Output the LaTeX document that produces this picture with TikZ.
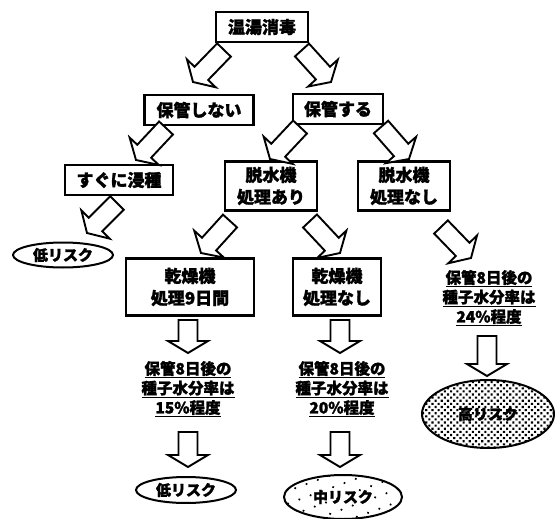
\documentclass[tikz,border=0pt]{standalone}
\usepackage{fontspec}
\newfontfamily\jp{Noto Sans CJK JP}[BoldFeatures={FakeBold=1.6}]
\usetikzlibrary{calc,shapes.geometric,patterns.meta}
\tikzset{
  box/.style={draw, line width=2.2pt, font=\jp\bfseries\fontsize{17}{22}\selectfont, align=center, inner sep=0pt},
  note/.style={font=\jp\bfseries\fontsize{15.5}{19.5}\selectfont, align=center, inner sep=0pt},
  risk/.style={ellipse, draw, line width=2pt, inner sep=0pt, font=\jp\bfseries\fontsize{15}{17}\selectfont},
  blockarrow/.style={draw, line width=1.9pt, fill=white, line join=miter},
}
\newcommand{\barrow}[2]{%
  \coordinate (hb) at ($(#2)!12pt!(#1)$);
  \draw[blockarrow] ($(#1)!9.5pt!90:(#2)$) -- ($(hb)!9.5pt!90:(#2)$) -- ($(hb)!20pt!90:(#2)$) -- (#2)
     -- ($(hb)!20pt!-90:(#2)$) -- ($(hb)!9.5pt!-90:(#2)$) -- ($(#1)!9.5pt!-90:(#2)$) -- cycle;}
\begin{document}
\begin{tikzpicture}[x=1pt,y=-1pt]
\useasboundingbox (0,0) rectangle (555,519);
% boxes
\node[box, minimum width=92pt, minimum height=30pt] (onto) at (262,27) {温湯消毒};
\node[box, minimum width=109pt, minimum height=30pt] (nohokan) at (199,110) {保管しない};
\node[box, minimum width=90pt, minimum height=30pt] (hokan) at (338,109) {保管する};
\node[box, minimum width=108pt, minimum height=30pt] (sugu) at (119,180) {すぐに浸種};
\node[box, minimum width=92pt, minimum height=49pt] (dash) at (271,186) {脱水機\\処理あり};
\node[box, minimum width=92pt, minimum height=49pt] (dasn) at (404,186) {脱水機\\処理なし};
\node[box, minimum width=128pt, minimum height=57pt] (kan9) at (190,287) {乾燥機\\処理9日間};
\node[box, minimum width=88pt, minimum height=57pt] (kann) at (337,287) {乾燥機\\処理なし};
% notes
\node[note] (t15) at (188,389) {\underline{保管8日後の}\\\underline{種子水分率は}\\\underline{15\%程度}};
\node[note] (t20) at (342,389) {\underline{保管8日後の}\\\underline{種子水分率は}\\\underline{20\%程度}};
\node[note] (t24) at (489,298) {\underline{保管8日後の}\\\underline{種子水分率は}\\\underline{24\%程度}};
% risks
\node[risk, minimum width=100pt, minimum height=25pt] (low1) at (63,255) {低リスク};
\node[risk, minimum width=100pt, minimum height=26pt] (low2) at (186,490) {低リスク};
\node[risk, minimum width=118pt, minimum height=44pt, pattern={Dots[distance=12pt, radius=1.2pt, angle=20]}] (mid) at (343,497) {中リスク};
\node[risk, minimum width=132pt, minimum height=68pt, pattern={Dots[distance=4.4pt, radius=1.5pt, angle=45]}] (high) at (488,414) {高リスク};
% arrow coordinates
\coordinate (a1t) at (224,50);  \coordinate (a1p) at (193,82);
\coordinate (a2t) at (302,50);  \coordinate (a2p) at (331,82);
\coordinate (a3t) at (166,128); \coordinate (a3p) at (136,160);
\coordinate (a4t) at (300,127); \coordinate (a4p) at (270,159);
\coordinate (a5t) at (381,127); \coordinate (a5p) at (409,159);
\coordinate (a6t) at (117,203); \coordinate (a6p) at (87,233);
\coordinate (a7t) at (230,221); \coordinate (a7p) at (201,253);
\coordinate (a8t) at (310,221); \coordinate (a8p) at (340,253);
\coordinate (a9t) at (441,227); \coordinate (a9p) at (471,258);
\coordinate (d1t) at (188,320); \coordinate (d1p) at (188,353);
\coordinate (d2t) at (340,320); \coordinate (d2p) at (340,353);
\coordinate (d3t) at (188,432); \coordinate (d3p) at (188,467);
\coordinate (d4t) at (340,432); \coordinate (d4p) at (340,467);
\coordinate (d5t) at (487,336); \coordinate (d5p) at (487,376);
\barrow{a1t}{a1p}
\barrow{a2t}{a2p}
\barrow{a3t}{a3p}
\barrow{a4t}{a4p}
\barrow{a5t}{a5p}
\barrow{a6t}{a6p}
\barrow{a7t}{a7p}
\barrow{a8t}{a8p}
\barrow{a9t}{a9p}
\barrow{d1t}{d1p}
\barrow{d2t}{d2p}
\barrow{d3t}{d3p}
\barrow{d4t}{d4p}
\barrow{d5t}{d5p}
\end{tikzpicture}
\end{document}
